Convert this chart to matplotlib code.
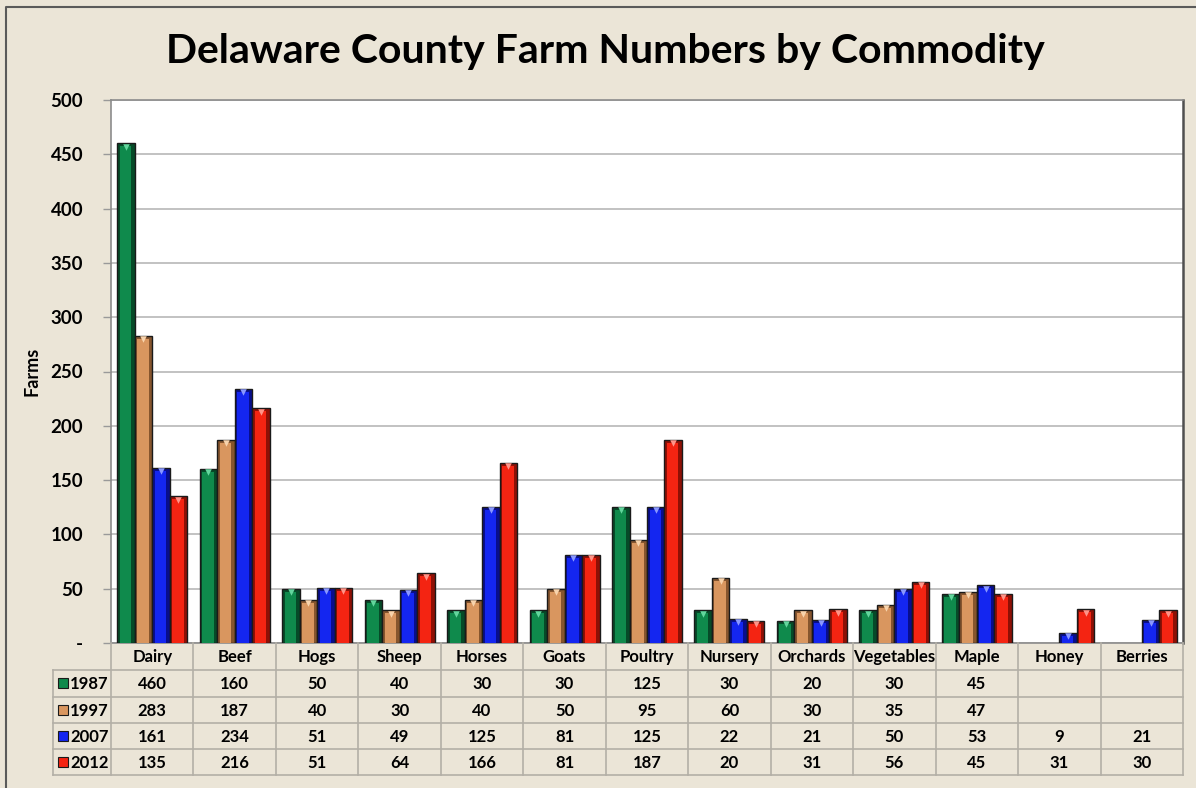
import numpy as np
import matplotlib.pyplot as plt
import matplotlib.transforms as mtransforms
from matplotlib.patches import Rectangle
from matplotlib.lines import Line2D

plt.rcParams['font.family'] = ['Lato', 'DejaVu Sans']
plt.rcParams['font.weight'] = 'bold'

# farm counts per commodity, census years
categories = ['Dairy', 'Beef', 'Hogs', 'Sheep', 'Horses', 'Goats', 'Poultry',
              'Nursery', 'Orchards', 'Vegetables', 'Maple', 'Honey', 'Berries']
years = ['1987', '1997', '2007', '2012']
farms_1987 = [460, 160, 50, 40, 30, 30, 125, 30, 20, 30, 45, np.nan, np.nan]
farms_1997 = [283, 187, 40, 30, 40, 50, 95, 60, 30, 35, 47, np.nan, np.nan]
farms_2007 = [161, 234, 51, 49, 125, 81, 125, 22, 21, 50, 53, 9, 21]
farms_2012 = [135, 216, 51, 64, 166, 81, 187, 20, 31, 56, 45, 31, 30]
series = [farms_1987, farms_1997, farms_2007, farms_2012]

# face, shadow (bevel sides), highlight (top notch)
face = ['#0F8A4C', '#D9965F', '#1426F0', '#F42412']
shade = ['#064A28', '#86552E', '#080E8C', '#8E1005']
light = ['#63D69D', '#F8D3AC', '#8A98FF', '#FF9488']

W, H = 1196, 788
bg = '#EBE5D7'
fig = plt.figure(figsize=(W / 100, H / 100), dpi=100, facecolor=bg)

# plot area in pixels
px_l, px_r, px_t, px_b = 111, 1183, 100, 643
ax = fig.add_axes([px_l / W, 1 - px_b / H, (px_r - px_l) / W, (px_b - px_t) / H])
ax.set_facecolor('white')

x = np.arange(len(categories))
bw = 0.212
px_x = 1 / ((px_r - px_l) / len(categories))   # one pixel in category units
px_y = 500 / (px_b - px_t)                      # one pixel in farm units

for i, vals in enumerate(series):
    v = np.array(vals, dtype=float)
    xi = x + (i - 1.5) * bw
    # outer (dark) bar then inset face for a bevelled look
    ax.bar(xi, v, bw, color=shade[i], edgecolor='#1A1A1A', linewidth=1.0, zorder=3)
    inner = np.clip(v - 3 * px_y, 0, None)
    ax.bar(xi - 0.5 * px_x, inner, bw - 6 * px_x, color=face[i], linewidth=0, zorder=4)
    ok = ~np.isnan(v)
    ax.scatter(xi[ok], v[ok] - 3.2 * px_y, marker='v', s=22, color=light[i],
               linewidths=0, zorder=5)

ax.set_xlim(-0.5, len(categories) - 0.5)
ax.set_ylim(0, 500)
ax.set_yticks(np.arange(0, 501, 50))
ax.set_yticklabels(['-'] + [str(t) for t in range(50, 501, 50)], fontsize=13.5, fontweight='bold')
ax.tick_params(axis='y', length=6, width=1, color='#999999', pad=14)
ax.set_xticks([])
ax.yaxis.grid(True, color='#BDBDBD', linewidth=1.3, zorder=0)
ax.set_axisbelow(True)
for side in ['left', 'top', 'bottom']:
    ax.spines[side].set_color('#8C8C8C')
    ax.spines[side].set_linewidth(1.2)
ax.spines['right'].set_color('#505050')
ax.spines['right'].set_linewidth(1.8)

# pixel transform (origin at top-left of the figure)
pix = mtransforms.Affine2D().scale(1 / W, -1 / H).translate(0, 1) + fig.transFigure
xdata_ypix = mtransforms.blended_transform_factory(ax.transData, pix)

line_col = '#B3AFA6'
row_edges = [643, 670, 697, 723, 749, 775]
# vertical lines between categories
for b in np.arange(-0.5, len(categories), 1.0):
    fig.lines.append(Line2D([b, b], [row_edges[0], row_edges[-1]], transform=xdata_ypix,
                            color=line_col, linewidth=1.2))
# horizontal lines
for y in row_edges[1:]:
    fig.lines.append(Line2D([53, px_r], [y, y], transform=pix, color=line_col, linewidth=1.2))
fig.lines.append(Line2D([53, 53], [row_edges[1], row_edges[-1]], transform=pix,
                        color=line_col, linewidth=1.2))

# header row with commodity names
for xc, name in zip(x, categories):
    fig.text(xc, (row_edges[0] + row_edges[1]) / 2 + 1, name, transform=xdata_ypix,
             ha='center', va='center', fontsize=12, fontweight='bold')

# value rows with legend keys
for i, vals in enumerate(series):
    yc = (row_edges[i + 1] + row_edges[i + 2]) / 2 + 1
    fig.patches.append(Rectangle((58, yc - 6), 10, 10, transform=pix, facecolor=face[i],
                                 edgecolor='#1A1A1A', linewidth=0.8))
    fig.text(70, yc, years[i], transform=pix, ha='left', va='center',
             fontsize=12, fontweight='bold')
    for xc, v in zip(x, vals):
        if not np.isnan(v):
            fig.text(xc, yc, f'{int(v)}', transform=xdata_ypix, ha='center', va='center',
                     fontsize=12, fontweight='bold')

fig.text(605 / W, 1 - 52 / H, 'Delaware County Farm Numbers by Commodity',
         ha='center', va='center', fontsize=29.5, fontweight='bold')
fig.text(32 / W, 1 - 371 / H, 'Farms', rotation=90, ha='center', va='center',
         fontsize=13, fontweight='bold')

# outer frame on left and top
fig.lines.append(Line2D([6, 6, W], [H, 7, 7], transform=pix, color='#5A5A5A', linewidth=1.5))

fig.savefig('out.png', dpi=100, facecolor=bg)
